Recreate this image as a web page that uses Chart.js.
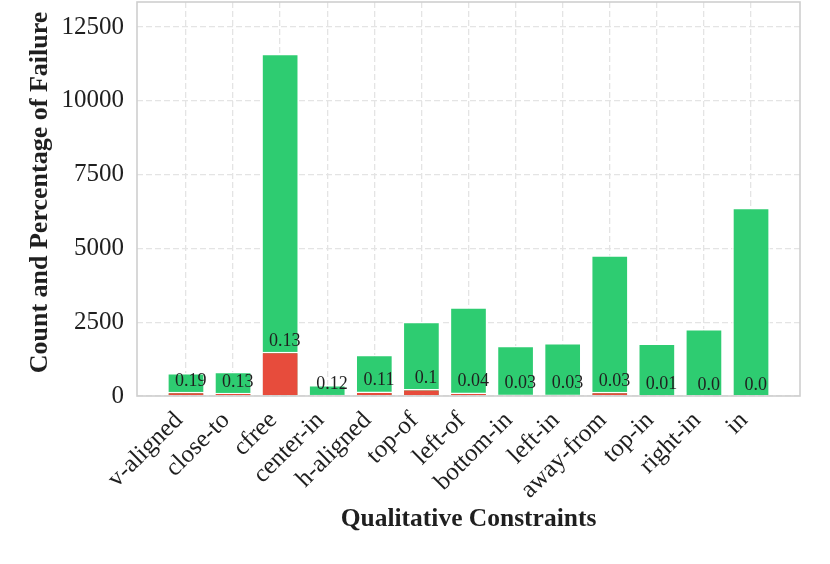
<!DOCTYPE html>
<html>
<head>
<meta charset="utf-8">
<script src="https://cdn.jsdelivr.net/npm/chart.js@4"></script>
<style>
html, body { margin: 0; padding: 0; background: #fff; }
#wrap { width: 830px; height: 564px; }
</style>
</head>
<body>
<div id="wrap"><canvas id="chart" width="830" height="564"></canvas></div>
<script>
// data
const categories = ['v-aligned', 'close-to', 'cfree', 'center-in', 'h-aligned', 'top-of', 'left-of', 'bottom-in', 'left-in', 'away-from', 'top-in', 'right-in', 'in'];
const totalCounts = [780, 825, 11600, 370, 1400, 2520, 3005, 1705, 1795, 4770, 1775, 2270, 6375];
const failureCounts = [148, 107, 1500, 44, 154, 240, 120, 51, 54, 143, 18, 0, 0];
const failureRates = ['0.19', '0.13', '0.13', '0.12', '0.11', '0.1', '0.04', '0.03', '0.03', '0.03', '0.01', '0.0', '0.0'];
const yTicks = [0, 2500, 5000, 7500, 10000, 12500];

const serif = '"Liberation Serif", "Times New Roman", serif';
const textColor = '#1f1f1f';

// percentage text above each red bar, plus the y axis title
const rateLabels = {
    id: 'rateLabels',
    afterDatasetsDraw(chart) {
        const ctx = chart.ctx;
        const xs = chart.scales.x, ys = chart.scales.y;
        ctx.save();
        ctx.font = '18px ' + serif;
        ctx.fillStyle = textColor;
        ctx.textAlign = 'center';
        ctx.textBaseline = 'alphabetic';
        failureRates.forEach((r, i) => {
            ctx.fillText(r, xs.getPixelForValue(i + 0.1), ys.getPixelForValue(failureCounts[i]) - 6);
        });
        ctx.restore();

        ctx.save();
        ctx.translate(47, 192.5);
        ctx.rotate(-Math.PI / 2);
        ctx.font = 'bold 26px ' + serif;
        ctx.fillStyle = textColor;
        ctx.textAlign = 'center';
        ctx.textBaseline = 'alphabetic';
        ctx.fillText('Count and Percentage of Failure', 0, 0);
        ctx.restore();
    }
};

// light grey frame round the plot
const frame = {
    id: 'frame',
    afterDraw(chart) {
        const a = chart.chartArea, ctx = chart.ctx;
        ctx.save();
        ctx.strokeStyle = '#cfcfcf';
        ctx.lineWidth = 1.6;
        ctx.strokeRect(a.left, a.top, a.right - a.left, a.bottom - a.top);
        ctx.restore();
    }
};

const ctx = document.getElementById('chart').getContext('2d');
new Chart(ctx, {
    type: 'bar',
    data: {
        datasets: [{
            label: 'Failure',
            data: failureCounts.map((v, i) => ({ x: i, y: v })),
            backgroundColor: '#e74c3c',
            borderColor: '#ffffff',
            borderWidth: 1.5,
            borderSkipped: 'start',
            grouped: false,
            order: 0
        }, {
            label: 'Count',
            data: totalCounts.map((v, i) => ({ x: i, y: v })),
            backgroundColor: '#2ecc71',
            borderColor: '#ffffff',
            borderWidth: 1.5,
            borderSkipped: 'start',
            grouped: false,
            order: 1
        }]
    },
    options: {
        responsive: false,
        animation: false,
        categoryPercentage: 1,
        barPercentage: 0.8,
        layout: { padding: { top: 2, right: 30, left: 0, bottom: 0 } },
        plugins: { legend: { display: false }, tooltip: { enabled: false } },
        scales: {
            x: {
                type: 'linear',
                offset: false,
                min: -1.04,
                max: 13.04,
                afterBuildTicks: axis => { axis.ticks = categories.map((c, i) => ({ value: i })); },
                afterFit: axis => {
                    axis.height = 168;
                    axis.paddingLeft = 0;
                    axis.paddingRight = 0;
                },
                ticks: {
                    callback: v => categories[v],
                    minRotation: 45,
                    maxRotation: 45,
                    padding: 10,
                    labelOffset: -7,
                    color: textColor,
                    font: { family: serif, size: 25 }
                },
                grid: { color: '#e4e4e4', lineWidth: 1.3, drawTicks: false, offset: false },
                border: { display: false, dash: [6, 3] },
                title: {
                    display: true,
                    text: 'Qualitative Constraints',
                    color: textColor,
                    font: { family: serif, size: 25.5, weight: 'bold' },
                    padding: { top: 0, bottom: 29 }
                }
            },
            y: {
                min: 0,
                max: 13350,
                afterBuildTicks: axis => { axis.ticks = yTicks.map(v => ({ value: v })); },
                afterFit: axis => {
                    axis.width = 137;
                    axis.paddingTop = 0;
                    axis.paddingBottom = 0;
                },
                ticks: {
                    callback: v => String(v),
                    padding: 13,
                    color: textColor,
                    font: { family: serif, size: 25 }
                },
                grid: { color: '#e4e4e4', lineWidth: 1.3, drawTicks: false },
                border: { display: false, dash: [6, 3] }
            }
        }
    },
    plugins: [rateLabels, frame]
});
</script>
</body>
</html>
